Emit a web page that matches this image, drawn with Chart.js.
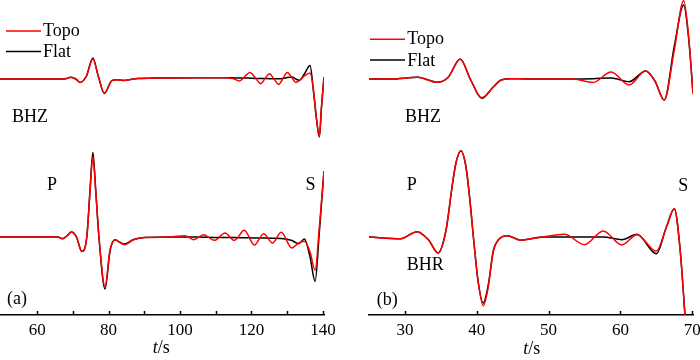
<!DOCTYPE html>
<html>
<head>
<meta charset="utf-8">
<script src="https://cdn.jsdelivr.net/npm/chart.js@4.4.1/dist/chart.umd.min.js"></script>
<style>
    html, body { margin: 0; padding: 0; background: #fff; }
    #wrap { position: relative; width: 700px; height: 360px; overflow: hidden; }
    #boxA { position: absolute; left: 0; top: 0; width: 345px; height: 360px; }
    #boxB { position: absolute; left: 350px; top: 0; width: 350px; height: 360px; }
    #txt { position: absolute; left: 0; top: 0; width: 700px; height: 360px; pointer-events: none; }
    #txt span { position: absolute; white-space: nowrap; color: #000;
        font-family: "Liberation Serif", "Times New Roman", serif; font-size: 18px; line-height: 18px; }
    #txt span.tick { font-size: 17px; line-height: 17px; transform: translateX(-50%); }
</style>
</head>
<body>
<div id="wrap">
    <div id="boxA"><canvas id="chartA"></canvas></div>
    <div id="boxB"><canvas id="chartB"></canvas></div>
    <div id="txt"></div>
</div>
<script>
// ---- data (amplitudes, arbitrary units) ----
// panel (a), BHZ
const timeAZ = [49.6, 66, 67.6, 69.5, 70.8, 72.0, 73.8, 75.6, 77.1, 78.8, 80.9, 82.3, 84.1, 87, 95, 105, 112, 114.8, 116.6, 118.1, 119.6, 121.1, 122.6, 123.8, 125.0, 126.3, 127.6, 128.8, 130.0, 131.3, 132.4, 133.4, 134.8, 136.4, 137.4, 138.2, 139.0, 139.6, 140.3];
const topoAZ = [0, 0, 0, 1.7, 0, -3.4, 3, 20, 3, -14, -1.7, -0.7, -1.5, 0, 1, 1.3, 1.3, 0.5, -2, 2.5, 6.6, 1, -4.7, 0.5, 5.3, 0, -5.4, 0.5, 6.6, 1.5, -3.4, -1.5, 3, 6, -12, -40, -57.4, -28, 2];
const flatAZ = [0, 0, 0, 1.7, 0, -3.4, 3, 21, 3, -14.5, -1.7, -0.7, -1.5, 0, 1, 1.3, 1.3, 1.2, 1.0, 1.0, 0.8, 0.6, 0.5, 0.5, 0.3, 0.3, 0.3, 0.5, 1.5, 2, 0, -1.4, 5, 13.6, -14, -40, -58, -28, 2];

// panel (a), BHR
const timeAR = [49.6, 65.8, 67.1, 68.3, 69.6, 71.0, 72.5, 73.9, 74.8, 75.6, 76.4, 77.3, 79.0, 80.4, 81.8, 83.0, 84.4, 87, 90, 97, 101.4, 103.8, 106.6, 109.6, 112.6, 115.2, 118, 120.8, 123.4, 125.9, 128.3, 131.3, 133.2, 134.8, 136.4, 137.8, 139.0, 139.7, 140.3];
const topoAR = [0, 0, -1.7, 1, 5, 0, -14.4, 0, 45, 80.6, 45, 0, -49.4, -13, -2.7, -5, -7.7, -2.7, -0.5, 0, 1.3, -2.7, 2.3, -3.3, 4, -3.3, 6.7, -8, 3.3, -6, 4.7, -11, -6, -4.3, -15, -33.3, 10, 40, 66];
const flatAR = [0, 0, -1.7, 1, 5, 0, -14.4, 0, 47, 84.6, 47, 0, -52, -14, -2.7, -5, -7, -2.5, -0.5, 0, 0, 0, -0.2, -0.4, -0.5, -0.6, -0.7, -0.9, -1, -1.2, -1.5, -3.5, -6.7, -2, -20, -44.4, 5, 38, 66];

// panel (b), BHZ
const timeBZ = [25, 28, 31.8, 34.5, 36.0, 37.7, 39.1, 40.7, 42.3, 43.4, 44.8, 47, 50, 53.4, 56.2, 58.7, 61.2, 63.5, 64.8, 66.1, 67.5, 68.8, 69.5, 70.1];
const topoBZ = [0, 0, 1.7, -3.3, 1.5, 19.7, 0, -18.7, -8, -1, 0.3, 0, 0, 0, -3.4, 7, -6, 8, -2, -21, 29, 78.3, 42, -15];
const flatBZ = [0, 0, 1.7, -3.3, 1.5, 20, 0, -19.3, -8, -1, 0.3, 0, 0, 0, 0.3, 1, -2.7, 8, -2, -21, 33, 74, 40, -14];

// panel (b), BHR
const timeBR = [25, 29.4, 31.7, 33.3, 34.6, 35.7, 36.6, 37.1, 37.8, 38.5, 39.0, 39.6, 40.2, 40.9, 41.6, 42.3, 43.0, 44.2, 46.2, 47.3, 49.2, 52.2, 55, 57.6, 60.2, 62.3, 65, 66.4, 67.5, 68.3, 69.0, 69.5, 70.1];
const topoBR = [0, -1.7, 5.3, -3, -16, 6, 52, 74, 86.3, 70, 40, -5, -45, -68.7, -50, -14, -3, 1.3, -3.3, -2, 0, 2.7, -7.7, 6, -8, 2.3, -14.3, 10, 28.3, -12, -80, -130, -200];
const flatBR = [0, -1.7, 5.3, -3, -16, 6, 52, 74, 86.3, 70, 40, -5, -45, -66, -48, -14, -3, 1.3, -3.3, -2, 0, 0, 0, 0, -2.7, 2.7, -16.7, 10, 28.3, -12, -80, -130, -200];

const ticksA = [60, 80, 100, 120, 140];
const ticksB = [30, 40, 50, 60, 70];

const RED = '#ff0000';
const BLACK = '#000000';
const txtLayer = document.getElementById('txt');

function pts(times, vals) {
    return times.map((t, i) => ({ x: t, y: vals[i] }));
}

function trace(label, times, vals, color, axis) {
    return {
        label: label,
        data: pts(times, vals),
        borderColor: color,
        borderWidth: 1.5,
        pointRadius: 0,
        cubicInterpolationMode: 'monotone',
        yAxisID: axis,
        fill: false
    };
}

// text as html spans; y is the baseline (18px serif: baseline ~15px below top)
function addText(html, x, y, cls) {
    const s = document.createElement('span');
    if (cls) s.className = cls;
    s.innerHTML = html;
    s.style.left = x + 'px';
    s.style.top = (y - (cls === 'tick' ? 14.2 : 15.1)) + 'px';
    txtLayer.appendChild(s);
    return s;
}

// legend lines, inward tick marks, tick labels
function decor(cfg) {
    let placed = false;
    return {
        id: 'decor',
        afterDraw(chart) {
            const ctx = chart.ctx;
            const xs = chart.scales.x;
            ctx.save();
            ctx.lineWidth = 1.5;
            ctx.strokeStyle = BLACK;
            xs.ticks.forEach(t => {
                if (t.value <= xs.min + 0.5) return;
                const px = Math.round(xs.getPixelForValue(t.value)) + 0.5;
                ctx.beginPath();
                ctx.moveTo(px, xs.top);
                ctx.lineTo(px, xs.top - 4);
                ctx.stroke();
            });
            const lg = cfg.legend;
            [[RED, lg.y1], [BLACK, lg.y2]].forEach(([c, ly]) => {
                ctx.strokeStyle = c;
                ctx.beginPath();
                ctx.moveTo(lg.x0, ly);
                ctx.lineTo(lg.x1, ly);
                ctx.stroke();
            });
            ctx.restore();

            if (placed) return;
            placed = true;
            const off = cfg.offset;
            cfg.labelled.forEach(v => addText(String(v), off + xs.getPixelForValue(v), cfg.tickBase, 'tick'));
            addText('Topo', off + lg.tx, lg.b1);
            addText('Flat', off + lg.tx, lg.b2);
            cfg.labels.forEach(l => addText(l.text, off + l.x, l.y));
            addText('<i>t</i>/s', off + cfg.title.x, cfg.title.y);
        }
    };
}

function makeChart(id, opt) {
    const ctx = document.getElementById(id).getContext('2d');
    return new Chart(ctx, {
        type: 'line',
        data: {
            datasets: [
                trace('Topo', opt.timeZ, opt.topoZ, RED, 'yZ'),
                trace('Topo', opt.timeR, opt.topoR, RED, 'yR'),
                trace('Flat', opt.timeZ, opt.flatZ, BLACK, 'yZ'),
                trace('Flat', opt.timeR, opt.flatR, BLACK, 'yR')
            ]
        },
        options: {
            responsive: true,
            maintainAspectRatio: false,
            animation: false,
            layout: { padding: opt.padding },
            plugins: {
                legend: { display: false },
                tooltip: { enabled: false }
            },
            scales: {
                x: {
                    type: 'linear',
                    min: opt.min,
                    max: opt.max,
                    grid: { display: true, drawOnChartArea: false, drawTicks: false },
                    border: { display: true, color: BLACK, width: 1.5 },
                    ticks: { display: false, stepSize: 10, includeBounds: false, autoSkip: false }
                },
                yZ: { type: 'linear', display: false, min: -236, max: 79 },
                yR: { type: 'linear', display: false, min: -78, max: 237 }
            }
        },
        plugins: [decor(opt.decor)]
    });
}

makeChart('chartA', {
    timeZ: timeAZ, topoZ: topoAZ, flatZ: flatAZ,
    timeR: timeAR, topoR: topoAR, flatR: flatAR,
    min: 49.6, max: 140.3,
    padding: { left: 0, right: 21, top: 0, bottom: 45 },
    decor: {
        offset: 0,
        labelled: ticksA,
        tickBase: 335,
        legend: { x0: 6, x1: 41, tx: 43, y1: 31, b1: 36.5, y2: 51.5, b2: 57.3 },
        labels: [
            { text: 'BHZ', x: 12, y: 121.7 },
            { text: 'P', x: 47, y: 190 },
            { text: 'S', x: 305.5, y: 190 },
            { text: '(a)', x: 7, y: 304.5 }
        ],
        title: { x: 152.7, y: 353 }
    }
});

makeChart('chartB', {
    timeZ: timeBZ, topoZ: topoBZ, flatZ: flatBZ,
    timeR: timeBR, topoR: topoBR, flatR: flatBR,
    min: 25, max: 70.1,
    padding: { left: 19, right: 7, top: 0, bottom: 45 },
    decor: {
        offset: 350,
        labelled: ticksB,
        tickBase: 335,
        legend: { x0: 20, x1: 55, tx: 57.3, y1: 39.3, b1: 44.3, y2: 60, b2: 65.7 },
        labels: [
            { text: 'BHZ', x: 55, y: 121.7 },
            { text: 'P', x: 56.7, y: 190 },
            { text: 'S', x: 328.3, y: 190.7 },
            { text: 'BHR', x: 56.7, y: 270 },
            { text: '(b)', x: 26.7, y: 305 }
        ],
        title: { x: 173.3, y: 354 }
    }
});
</script>
</body>
</html>
